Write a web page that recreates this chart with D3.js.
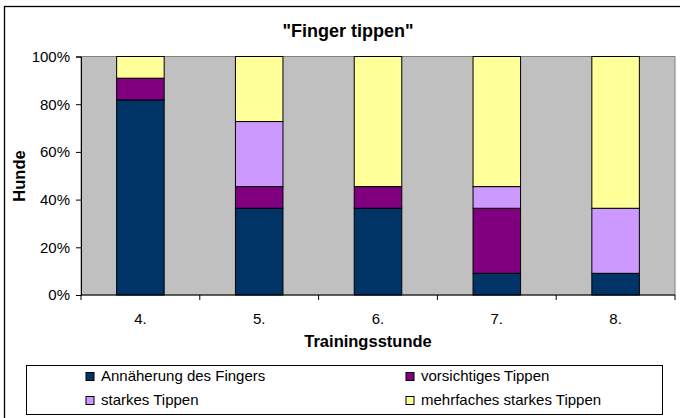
<!DOCTYPE html>
<html>
<head>
<meta charset="utf-8">
<script src="https://cdn.jsdelivr.net/npm/d3@7"></script>
<style>
  html, body { margin: 0; padding: 0; background: #fff; }
  svg { display: block; font-family: "Liberation Sans", Arial, sans-serif; }
</style>
</head>
<body>
<svg id="chart" width="680" height="418"></svg>
<script>
// Data (number of dogs per behaviour, 11 dogs per session)
const categories = ["4.", "5.", "6.", "7.", "8."];
const seriesNames = ["Annäherung des Fingers", "vorsichtiges Tippen", "starkes Tippen", "mehrfaches starkes Tippen"];
const annaeherung = [9, 4, 4, 1, 1];
const vorsichtig = [1, 1, 1, 3, 0];
const stark = [0, 3, 0, 1, 3];
const mehrfach = [1, 3, 6, 6, 7];
const yTicks = [0, 0.2, 0.4, 0.6, 0.8, 1.0];
const colors = ["#003366", "#800080", "#CC99FF", "#FFFF99"];

const seriesValues = [annaeherung, vorsichtig, stark, mehrfach];
const table = categories.map((c, i) => {
  const row = { cat: c };
  seriesNames.forEach((s, j) => row[s] = seriesValues[j][i]);
  return row;
});

const svg = d3.select("#chart");
const plot = { left: 81, right: 675, top: 56.5, bottom: 295 };

// outer chart border
svg.append("rect").attr("x", 4.5).attr("y", 6.5).attr("width", 690).attr("height", 430)
  .attr("fill", "#fff").attr("stroke", "#000").attr("stroke-width", 1.3);

const x = d3.scaleBand().domain(categories).range([plot.left, plot.right]).paddingInner(0.6).paddingOuter(0.3);
const xb = d3.scaleBand().domain(categories).range([plot.left, plot.right]);
const y = d3.scaleLinear().domain([0, 1]).range([plot.bottom, plot.top]);

// plot area
svg.append("rect").attr("x", plot.left).attr("y", plot.top)
  .attr("width", plot.right - plot.left).attr("height", plot.bottom - plot.top)
  .attr("fill", "#C0C0C0").attr("stroke", "#808080").attr("stroke-width", 1);

const stack = d3.stack().keys(seriesNames).offset(d3.stackOffsetExpand);
const layers = stack(table);

svg.append("g").selectAll("g").data(layers).join("g")
  .attr("fill", (d, i) => colors[i])
  .selectAll("rect").data(d => d).join("rect")
  .attr("x", d => x(d.data.cat))
  .attr("width", x.bandwidth())
  .attr("y", d => y(d[1]))
  .attr("height", d => y(d[0]) - y(d[1]))
  .attr("stroke", "#000").attr("stroke-width", 1);

// y axis
const yAxis = d3.axisLeft(y).tickValues(yTicks).tickFormat(d3.format(".0%")).tickSize(5).tickPadding(6);
const gy = svg.append("g").attr("transform", `translate(${plot.left},0)`).call(yAxis);
gy.select(".domain").attr("stroke", "#000");
gy.selectAll(".tick line").attr("stroke", "#000");
gy.selectAll(".tick text").attr("font-size", 15).attr("fill", "#000")
  .attr("font-family", '"Liberation Sans", Arial, sans-serif');

// x axis (ticks at category boundaries)
const gx = svg.append("g").attr("transform", `translate(0,${plot.bottom})`);
gx.append("line").attr("x1", plot.left).attr("x2", plot.right).attr("stroke", "#000");
const bounds = categories.map(c => xb(c)).concat([plot.right]);
gx.selectAll(".bt").data(bounds).join("line")
  .attr("x1", d => d).attr("x2", d => d).attr("y1", 0).attr("y2", 5).attr("stroke", "#000");
gx.selectAll(".lbl").data(categories).join("text")
  .attr("x", d => xb(d) + xb.bandwidth() / 2).attr("y", 29)
  .attr("text-anchor", "middle").attr("font-size", 15).attr("fill", "#000").text(d => d);

// title & axis titles
svg.append("text").attr("x", 348).attr("y", 37).attr("text-anchor", "middle")
  .attr("font-size", 18).attr("font-weight", "bold").text('"Finger tippen"');
svg.append("text").attr("x", 368).attr("y", 347).attr("text-anchor", "middle")
  .attr("font-size", 16.5).attr("font-weight", "bold").text("Trainingsstunde");
svg.append("text").attr("transform", "translate(25,176) rotate(-90)").attr("text-anchor", "middle")
  .attr("font-size", 16.5).attr("font-weight", "bold").text("Hunde");

// legend
svg.append("rect").attr("x", 26.5).attr("y", 365.5).attr("width", 636).attr("height", 49)
  .attr("fill", "#fff").attr("stroke", "#000").attr("stroke-width", 1);
const legPos = [[86, 372.5], [406, 372.5], [86, 396.5], [406, 396.5]];
const lg = svg.append("g").selectAll("g").data(seriesNames).join("g")
  .attr("transform", (d, i) => `translate(${legPos[i][0]},${legPos[i][1]})`);
lg.append("rect").attr("width", 8).attr("height", 8)
  .attr("fill", (d, i) => colors[i]).attr("stroke", "#000").attr("stroke-width", 1);
lg.append("text").attr("x", 15).attr("y", 8.3).attr("font-size", 15).attr("fill", "#000").text(d => d);
</script>
</body>
</html>
